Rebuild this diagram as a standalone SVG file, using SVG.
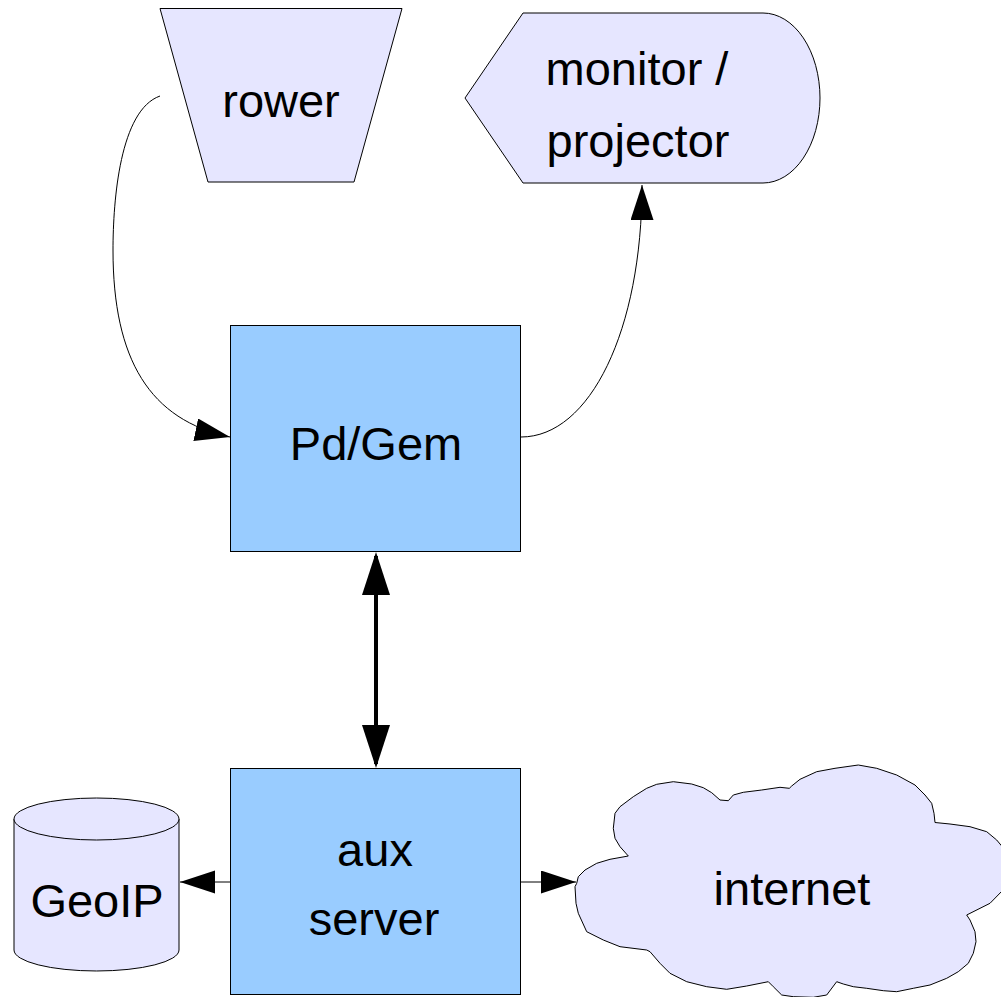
<svg xmlns="http://www.w3.org/2000/svg" width="1001" height="997" viewBox="0 0 1001 997">
<style>
.lav{fill:#e6e6ff;stroke:#000;stroke-width:1;stroke-linejoin:round}
.blue{fill:#99ccff;stroke:#000;stroke-width:1}
.lbl{font-family:"Liberation Sans",Arial,sans-serif;font-size:47px;fill:#000;text-anchor:middle}
.thin{fill:none;stroke:#000;stroke-width:1}
.thick{fill:none;stroke:#000;stroke-width:4}
</style>
<defs>
<marker id="ah" markerUnits="userSpaceOnUse" markerWidth="40" markerHeight="30" refX="35" refY="11.5" orient="auto">
<path d="M0,0 L35,11.5 L0,23 Z" fill="#000"/>
</marker>
<marker id="ahT" markerUnits="userSpaceOnUse" markerWidth="48" markerHeight="34" refX="39" refY="14" orient="auto-start-reverse">
<path d="M0,0 L43,14 L0,28 Z" fill="#000"/>
</marker>
</defs>
<g id="connectors">
<path class="thin" d="M160,96 C120,110 113,200 113,250 C113,360 150,420 230,437" marker-end="url(#ah)"/>
<path class="thin" d="M521,437 C590,437 642,330 642,185" marker-end="url(#ah)"/>
<path class="thick" d="M376,556 L376,764" marker-start="url(#ahT)" marker-end="url(#ahT)"/>
<path class="thin" d="M231,882 L180,882" marker-end="url(#ah)"/>
<path class="thin" d="M521,882 L576,882" marker-end="url(#ah)"/>
</g>
<g id="rower">
<path class="lav" d="M160,8.5 L402,8.5 L354,182 L208,182 Z"/>
<text class="lbl" x="281" y="117">rower</text>
</g>
<g id="monitor">
<path class="lav" d="M465,98 L523,13 L763,13 A57,85 0 0 1 763,183 L523,183 Z"/>
<text class="lbl" x="637" y="85">monitor /</text>
<text class="lbl" x="638" y="157">projector</text>
</g>
<g id="pdgem">
<rect class="blue" x="230.5" y="325.5" width="290" height="226"/>
<text class="lbl" x="376" y="460">Pd/Gem</text>
</g>
<g id="aux">
<rect class="blue" x="230.5" y="768.5" width="290" height="226"/>
<text class="lbl" x="375" y="866">aux</text>
<text class="lbl" x="374" y="935">server</text>
</g>
<g id="geoip">
<path class="lav" d="M14,819 L14,950 A82.5,21 0 0 0 179,950 L179,819"/>
<ellipse class="lav" cx="96.5" cy="819" rx="82.5" ry="21"/>
<text class="lbl" x="97" y="917">GeoIP</text>
</g>
<g id="internet">
<polygon class="lav" points="576.7,883.3 578.3,876.7 585,870 596.7,863.3 610,859.3 628.3,856 620,846.7 615,838.3 613.3,828.3 615,813.3 620,806.7 633.3,796.7 646.7,788.3 656.7,784.3 673.3,781.7 691.7,784 703.3,787.7 711.7,792.7 720,800 728.3,800.7 733.3,795 743.3,792.3 761.7,790 780,787.3 789.3,788.3 791.7,786 800,779.3 816.7,771.7 835,768.3 858.3,765 876.7,768.3 896.7,775 915,785 925,795 931.7,803.3 934,813.3 935,822.5 950,824 970,826.7 986.7,831.7 996.7,840 1005,850 1010,870 1005,888 990,903.3 966.7,915 970,920 975,931.7 976,941.7 973.3,953.3 968.3,963.3 958.3,971.7 946.7,978.3 930,985 913.3,988.3 896.7,991.7 883.3,990.7 866.7,988.3 853.3,986.7 843.3,984 836.7,981.7 826.7,995 813.3,997.3 793.3,996.7 781.7,995 773.3,986.7 768.3,981.7 746.7,986 726.7,989.3 706.7,986.7 686.7,981.7 670,973.3 660,963.3 650,951.7 646.7,950 620,946.7 603.3,940 586.7,931.7 578.3,913.3 576,903.3 575,886.7"/>
<text class="lbl" x="792" y="905">internet</text>
</g>
</svg>
